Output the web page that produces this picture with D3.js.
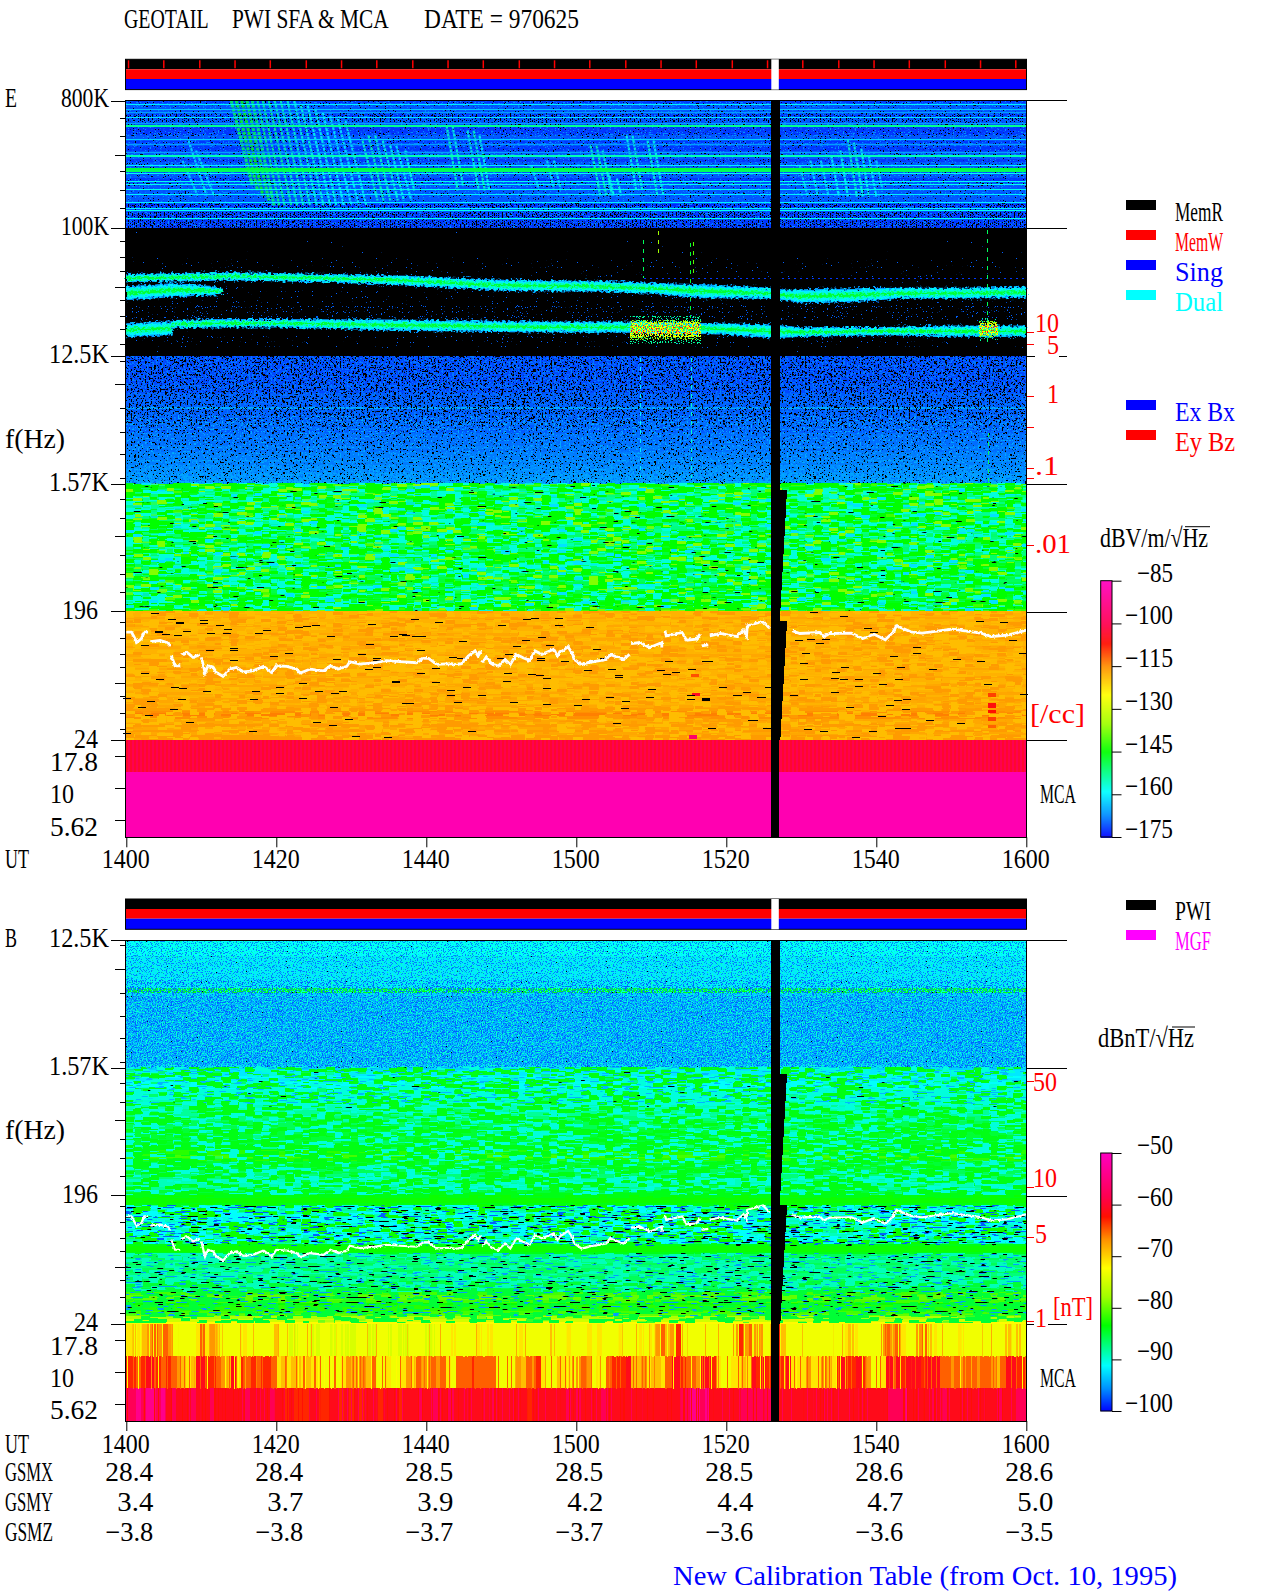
<!DOCTYPE html>
<html>
<head>
<meta charset="utf-8">
<script src="https://cdn.jsdelivr.net/npm/d3@7"></script>
<style>
  html, body { margin: 0; padding: 0; background: #fff; }
  svg { display: block; }
  text { font-family: "Liberation Serif", serif; font-size: 27px; white-space: pre; }
</style>
</head>
<body>
<svg width="1280" height="1593"></svg>
<script>
// axis values
const tickMinutes = [0, 20, 40, 60, 80, 100, 120]
const tickLabels = ['1400', '1420', '1440', '1500', '1520', '1540', '1600']
const gsmx = ['28.4', '28.4', '28.5', '28.5', '28.5', '28.6', '28.6']
const gsmy = ['3.4', '3.7', '3.9', '4.2', '4.4', '4.7', '5.0']
const gsmz = ['-3.8', '-3.8', '-3.7', '-3.7', '-3.6', '-3.6', '-3.5']
const freqMajors = [800000, 100000, 12500, 1570, 196, 24]
const mcaTicks = [17.8, 10, 5.62]
const recordMarks = [0.3, 5.0, 9.8, 14.5, 19.2, 24.0, 28.7, 33.4, 38.2, 42.9, 47.6, 52.4, 57.1, 61.8, 66.6, 71.3, 76.0, 80.8, 85.5, 90.2, 95.0, 99.7, 104.4, 109.2, 113.9, 118.6]
const colorbarE = [-85, -100, -115, -130, -145, -160, -175]
const colorbarB = [-50, -60, -70, -80, -90, -100]
const densityTicks = [10, 5, 1, 0.5, 0.1, 0.05, 0.01]
const densityPos = [332, 344, 396, 427, 468, 478, 545]
const fieldTicks = [50, 10, 5, 1]
const fieldPos = [1081, 1187, 1237, 1321]

// minor ticks per band, channels below the band top (long ones separately)
const minorA = [18, 36, 71, 90, 108], longA = [55]
const minorB = [13, 29, 43, 72, 88, 101, 116], longB = [59]
const minorC = [5, 53, 77, 99, 123], longC = [29]
const minorD = [16, 35, 72, 91, 109], longD = [53]
const minorF = [11, 27, 43, 56, 85, 101, 117], longF = [72]

// spectrum levels per channel row, dB
const rowsE800 = [-172, -160, -170, -163, -166, -172, -161, -170, -166, -153, -172, -172, -172, -170, -162, -172, -166, -172, -172, -166, -155, -170, -172, -170, -160, -148, -150, -158, -170, -172, -158, -158, -170, -158, -168, -160, -170, -168, -160, -173, -160, -158, -172, -172, -158, -172, -172, -172]
const rowsE12k = [-171, -171, -171, -171, -171, -171, -171, -171, -171, -171, -171, -170, -171, -171, -170, -170, -170, -170, -170, -165, -170, -170, -170, -170, -170, -169, -170, -169, -170, -169, -169, -169, -169, -169, -168, -169, -168, -168, -168, -167, -168, -167, -167, -167, -166, -166, -166, -165]
const rowsE1k = [-141, -148, -152, -153, -152, -153, -154, -152, -153, -153, -152, -153, -152, -151, -152, -153, -152, -151, -152, -151, -152, -153, -151, -152, -151, -151, -152, -151, -151, -150, -151, -151, -150, -151, -150, -149, -150, -149, -150, -148, -149, -148, -147, -148, -146, -145, -144, -141]
const rowsE196 = [-118, -118, -117, -118, -118, -117, -118, -118, -117, -118, -117, -118, -118, -117, -118, -118, -117, -118, -117, -118, -118, -117, -118, -118, -117, -118, -118, -117, -118, -118, -117, -118, -117, -117, -118, -117, -116, -115, -114, -115, -117, -117, -116, -117, -116, -117, -116, -116]
const rowsB12k = [-91, -91, -91, -91, -91, -91, -92, -92, -92, -92, -92, -92, -92, -92, -92, -92, -92, -92, -85, -84, -93, -94, -94, -94, -94, -94, -94, -94, -94, -94, -94, -94, -94, -94, -94, -94, -94, -94, -94, -94, -94, -94, -94, -94, -94, -94, -94, -93]
const rowsB1k = [-93, -92, -92, -91, -92, -91, -91, -91, -90, -90, -90, -90, -89, -90, -89, -89, -88, -88, -87, -87, -86, -86, -86, -85, -85, -85, -85, -85, -85, -84, -84, -82, -82, -81, -82, -85, -85, -85, -86, -86, -87, -87, -89, -89, -89, -88, -85, -84]
const rowsB196 = [-84, -83, -83, -84, -89, -88, -89, -89, -90, -89, -90, -89, -89, -88, -89, -89, -88, -88, -84, -83, -83, -84, -86, -86, -87, -86, -87, -86, -86, -87, -86, -86, -85, -85, -86, -85, -81, -80, -80, -81, -83, -82, -82, -81, -80, -77, -75, -72]

// MCA channels, one digit per 5 px column (0 = weakest)
const mcaMid = '2323454541111252431111211111311001100110100011001101001110011121111212111112111113112111212111211121245346111111111146454413631111111111123211114545211453211112111111113131'
const mcaLow = '665677656543237766543726565665232332322111124344351121124254454521555655551111435462113221454121566673342332577655477621122327676676722242243267667641127776777677755454554554357766'
const mcaBot = '88989989787778777877777787777877676667766776767677767776777877877877777777877777767777777878777787777777777777778899897777778888888877777777777777777777778889777778787777777777877788'
const mcaDigitDb = [-74.5, -73, -71, -69, -67, -65, -63, -61, -58, -54]

// swept emissions in the top band: minute, channel, minute, channel, dB
const chirps = [
  [14.0, 0, 16.8, 85, -150], [14.7, 0, 17.5, 90, -148], [15.4, 0, 18.2, 95, -146], [16.1, 0, 19, 100, -149],
  [16.8, 0, 19.7, 105, -151], [17.5, 0, 20.4, 105, -152], [18.2, 0, 21.1, 105, -153], [19, 0, 22, 105, -153],
  [19.8, 0, 22.8, 105, -155], [20.6, 0, 23.6, 105, -155], [21.5, 0, 24.5, 105, -156], [22.4, 0, 25.4, 105, -157],
  [23.3, 5, 26.3, 105, -157], [24.2, 5, 27.2, 105, -158], [25.2, 8, 28, 105, -158], [26.2, 12, 29, 105, -159],
  [27.2, 15, 30, 105, -160], [28.2, 18, 31, 105, -160], [29.2, 20, 32, 105, -160],
  [31.5, 40, 33.5, 100, -156], [32.3, 35, 34.3, 100, -155], [33.2, 35, 35.2, 100, -156], [34.2, 40, 36.2, 100, -157],
  [35.2, 45, 37, 100, -158], [36, 45, 38, 100, -160], [37.2, 50, 38.4, 90, -158],
  [8.3, 40, 10.7, 95, -161], [9.3, 50, 11.7, 95, -161], [7.5, 60, 9.5, 95, -162],
  [42.7, 25, 44.2, 90, -156], [43.5, 25, 44.9, 85, -157], [45.5, 30, 47, 90, -157], [46.3, 30, 47.8, 90, -156], [47.1, 35, 48.4, 90, -158],
  [56.1, 60, 57, 88, -161], [57, 60, 57.9, 88, -161], [54, 65, 55, 88, -162],
  [61.9, 45, 63.2, 95, -156], [62.7, 45, 64, 95, -155], [63.5, 50, 64.8, 95, -157], [64.4, 75, 65, 95, -158], [65.4, 78, 66, 95, -158],
  [66.7, 35, 68, 90, -158], [67.5, 35, 68.8, 90, -157], [69.5, 40, 70.8, 95, -157], [70.3, 40, 71.6, 95, -158],
  [89.8, 65, 90.8, 95, -162], [91.2, 60, 92.2, 95, -161], [92.6, 60, 93.6, 95, -161], [94, 55, 95, 95, -159], [95.2, 50, 96.2, 96, -158],
  [96.2, 39, 97.4, 96, -156], [97, 42, 98.2, 96, -157], [98, 48, 99, 96, -158], [99, 55, 100, 96, -160], [100, 60, 100.8, 88, -162]
]

// narrow band lines in 100K-12.5K: minute, channel, half width
const line1T = [0, 14, 27, 36.5, 50, 63, 70, 77, 86, 88, 90, 97, 103, 110, 120]
const line1Ch = [50, 48, 50, 52, 57, 58, 60, 63, 65, 67, 68, 67, 65, 65, 64]
const line1W = [3, 3, 3, 3.5, 4, 4, 4, 5, 4, 4, 5, 5, 4, 4, 4]
const tailT = [0, 6, 10, 12, 13]
const tailCh = [65, 62, 62, 63, 62.5]
const tailW = [5, 5, 4, 3, 1]
const line2T = [0, 6, 6.2, 12, 20, 28, 36, 46, 58, 66, 75, 80, 86, 90, 100, 110, 120]
const line2Ch = [102, 100, 96, 95, 95, 96, 97, 98, 99, 99, 100, 101, 103, 104, 103, 103, 103]
const line2W = [5, 5, 3, 3, 3, 3.5, 4, 4, 4, 4, 4, 4, 5, 3.5, 3, 4, 4]

// impulsive spikes: minute, channel from, channel to, dB (channels run on below the band)
const spikes = [[69, 12, 50, -150], [70.9, 3, 25, -135], [75.2, 15, 90, -148], [75.6, 14, 50, -140], [114.8, 2, 115, -150],
  [68.5, 130, 250, -160], [75.3, 130, 250, -156], [114.9, 205, 255, -150]]
const bursts = [[67.2, 76.6, 88, 115], [113.8, 116.2, 90, 112]]

// upper hybrid trace, minute and channel below 196 Hz, null = gap
const traceT = [0, 0.7, 1.4, 2, 2.4, 2.9, null, 3.2, 4.5, 5.6, 5.8, null, 6, 6.5, 7.2, null, 7.4, 8.1, 8.9, 9.8, null, 10, 10.5, 10.9, 11.6, 12, 12.9, 13.8, 14.7, 15.6, 16.9, 18.3, 19.4, 20, 21.4, 22.7, 23.2, 24.5, 26.3, 27.2, 28.3, 29.4, 29.8, 31.2, 33.4, 34.7, 36.5, 38.7, 39.6, 40.3, 41.4, 43.4, 43.8, 44.7, 45.6, 46.5, 46.9, 47.3, null, 47.5, 48, 48.7, 49.6, 50.5, 51.2, 52, 52.9, 53.8, 54.5, 55.4, 57, 57.5, 57.8, 58.9, 59.5, 59.7, 60.7, 61.6, 64, 64.5, 66.3, 67.1, null, 67.3, 68.5, 69.8, 71.4, 71.4, null, 71.8, 72, 74.1, 74.7, 76, 76.5, null, 76.7, 77.6, null, 77.8, 79.2, 81.4, 82.3, 82.7, 82.8, 84.9, 85.8, null, 87.1, 87.9, null, 88.8, 89.8, 92.5, 93, 93.8, 96.7, 98.2, 99.7, 101.2, 102.2, 102.7, 104.6, 106.1, 110.1, 114, 115.3, 117.5, 120]
const traceCh = [20.7, 20.7, 30.7, 27.3, 20.7, 20.7, null, 30, 29, 31.3, 34.7, null, 44, 54, 54, null, 43.3, 40.7, 45.7, 43, null, 45.7, 60.7, 54, 55.7, 60.7, 64.7, 57.3, 55.7, 60, 59, 54.7, 60.7, 54, 54.7, 57.3, 61.3, 57.3, 59, 54, 57.3, 54.7, 50, 52.3, 50.7, 49, 50, 51, 46.7, 46.7, 52.7, 52, 53, 52, 44.3, 39.3, 44.3, 39.3, null, 51, 45.3, 52, 54.3, 47.7, 52.7, 42.7, 46, 48.7, 39.3, 42.7, 37.7, 44.3, 41, 35.3, 42, 47.7, 52.7, 51, 47.7, 42.7, 47.7, 42.7, null, 32, 31, 36, 31, 36, null, 19.3, 24.3, 21, 28.7, 27.7, 22.7, null, 34.3, 33.3, null, 24.3, 22, 25, 18.7, 24.3, 14.3, 10, 17, null, 22.7, 16, null, 19.3, 22, 21, 25, 22, 21.7, 27, 22.7, 28.3, 21, 14.3, 20.3, 21.7, 17.7, 21.7, 25, 23.7, 18.7]

// data dropouts in the 196-24 Hz band of E: minute, channel
const dropsE = [[3.8, 1.3], [6, 7.3], [7.1, 10.7], [7.1, 11.7], [10.3, 9], [10.3, 11.3], [12.4, 13.3], [13.5, 17.3], [11.2, 21.3], [13.4, 21.3], [5.2, 22.3], [6.9, 23.3], [8, 19.3], [17.6, 21.3], [18.7, 18.7], [23, 15.7], [24.1, 14.7], [25.2, 13.3], [32.7, 12.3], [27.2, 24.7], [35.7, 24.3], [36.8, 22.3], [38.6, 24], [2.5, 33.3], [11.1, 38.7], [14.3, 36.7], [14.3, 38], [19.6, 44.7], [21.7, 41.3], [31.4, 42.7], [32.5, 32.7], [33.4, 46.7], [33.4, 48.7], [28, 47.3], [14.3, 48], [32.3, 57.3], [33.4, 55.7], [2.4, 61.3], [4.4, 67.3], [6.4, 74.7], [7.5, 75.7], [10.7, 78.7], [17.2, 78.7], [20.4, 74.7], [20.4, 80.7], [23.5, 71.3], [25.7, 78.7], [27.8, 80.7], [28.9, 78.7], [0, 86.3], [3.2, 88.7], [7.4, 87.3], [17, 87.3], [23.5, 86.3], [37.3, 90.7], [2, 94.7], [6.3, 96.7], [27.7, 94.7], [3, 102.7], [8.4, 109.7], [25.4, 109.7], [27.5, 112.7], [29.7, 106.7], [16.8, 118.7], [30.6, 123.3], [34.9, 124.7], [0, 120.7],
  [38.5, 8], [41.7, 11], [50.1, 14], [53.4, 8], [54.5, 6.3], [57.7, 6.3], [57.6, 14], [61.8, 16], [37.2, 23.3], [39.4, 24.3], [44.8, 29], [53.3, 28], [55.4, 25], [52, 34], [56.4, 33], [39.3, 38], [62.7, 37], [51, 42], [43.5, 45], [44.6, 46], [49.9, 46], [55.2, 46], [55.2, 48], [58.4, 49], [62.7, 48], [63.7, 46], [72.3, 49], [77.6, 49], [39.2, 61], [41.3, 56], [50.9, 61], [54, 62], [55.1, 63], [56, 66], [61.5, 58], [64.7, 57], [65.7, 63], [65.7, 65], [71.2, 58], [72.1, 62], [73.3, 60], [75.4, 57], [41.2, 70], [50.7, 69], [45.4, 75], [43.3, 78], [56, 76], [70, 77], [79.5, 75], [43.2, 83], [47.4, 83], [64.5, 85], [69.8, 85], [75.2, 83], [81.5, 83], [82.7, 80], [84.7, 85], [85.7, 75], [61.3, 87], [66.6, 89], [75.2, 87], [77.3, 86], [77.3, 88], [44.2, 90], [51.7, 90], [56, 92], [37.8, 91], [60.2, 93], [66.5, 96], [65.4, 111], [83.6, 108], [46, 119], [78.1, 116], [85.5, 116],
  [91.6, 1], [95.7, 5], [98.8, 17], [99.7, 20.3], [113.8, 10], [117, 11], [89.6, 28.7], [91.2, 27], [92.5, 31], [93.3, 27], [105.4, 35.3], [105.4, 41], [102.3, 44], [90.6, 41], [90.3, 51], [95.8, 55], [100, 61], [103.2, 55], [94.6, 60], [90.3, 67], [94.5, 66], [95.6, 67], [97.7, 67], [97.7, 73.7], [100.9, 71.7], [103, 67], [107.5, 57], [110.7, 47.7], [113.9, 49.3], [114.8, 71.7], [94.4, 79.7], [89, 82.7], [102.9, 87.7], [104, 87], [101.8, 93], [96.5, 95], [103.9, 97], [100.7, 103.7], [107.1, 107.7], [111.3, 111], [103, 116], [104, 116], [99.5, 118.7], [97.2, 125], [90.8, 117], [93, 118.7], [119.5, 41], [119.7, 81.7], [118.2, 28.7], [77.2, 49.3], [79.5, 75], [81.4, 82.7], [82.7, 79.7], [84.6, 85], [85.6, 75], [77.2, 87], [83.4, 107.7], [78, 116], [85.4, 116]]
const thickDropsE = [[3.8, 20], [35.4, 69]]
// strong cells in the same band: minute, channel, minutes wide, channels high, dB
const hotCells = [[75.4, 81, 1.1, 3, -104], [75, 123, 1.1, 4, -97], [75.3, 62, 1.1, 3, -111], [114.9, 81, 1, 4, -110], [114.9, 91, 1, 5, -106], [114.9, 98, 1, 3, -107], [114.9, 105, 1, 4, -110], [114.9, 113, 1, 3, -112]]

// data gap, minute and frequency
const gapTop = [[86, 800000], [87.2, 800000], [87.2, 1417], [88.1, 1417], [87.2, 196], [87.2, 167], [88.1, 167], [87.2, 24], [87, 24], [87, 4.14], [86, 4.14]]
const gapBottom = [[86, 12500], [87.2, 12500], [87.2, 1417], [88.1, 1417], [87.2, 196], [87.2, 167], [88.1, 167], [87.2, 24], [87, 24], [87, 4.14], [86, 4.14]]

const svg = d3.select('svg')
const defs = svg.append('defs')
const x = d3.scaleLinear().domain([0, 120]).range([126.3, 1026.3])
const plotLeft = 125.5, plotRight = 1026.5

// jet-like palette of the colour bars
const palette = d3.scaleLinear()
  .domain([0, 0.089, 0.178, 0.333, 0.444, 0.556, 0.667, 0.755, 0.833, 1])
  .range(['#0000ff', '#0090ff', '#00ffff', '#00ff00', '#a0ff00', '#ffff00', '#ff9000', '#ff1000', '#ff0050', '#ff00c0'])
  .clamp(true)
const colorE = d => palette((d + 175) / 90)
const colorB = d => palette((d + 100) / 50)

// Grain is only surface texture for the noise floor; it carries no values
let grainCount = 0
const grain = (g, box, opts) => {
  const id = `grain${grainCount++}`
  const c = d3.color(opts.color).rgb()
  const f = defs.append('filter').attr('id', id)
    .attr('x', 0).attr('y', 0).attr('width', 1).attr('height', 1)
    .attr('color-interpolation-filters', 'sRGB')
  f.append('feTurbulence').attr('type', 'fractalNoise').attr('baseFrequency', opts.freq || '0.7')
    .attr('numOctaves', 1).attr('seed', opts.seed).attr('result', 'n')
  let src = 'n'
  if (opts.block) {
    // sample the noise once per cell, then grow each sample over its cell
    const [bw, bh] = opts.block
    f.append('feFlood').attr('x', box[0] + Math.floor(bw / 2)).attr('y', box[1] + Math.floor(bh / 2)).attr('width', 1).attr('height', 1).attr('flood-color', '#000')
    f.append('feComposite').attr('x', box[0]).attr('y', box[1]).attr('width', bw).attr('height', bh)
    f.append('feTile').attr('x', box[0]).attr('y', box[1]).attr('width', box[2]).attr('height', box[3]).attr('result', 't')
    f.append('feComposite').attr('in', 'n').attr('in2', 't').attr('operator', 'in')
    f.append('feMorphology').attr('operator', 'dilate').attr('radius', `${Math.floor(bw / 2)} ${Math.floor(bh / 2)}`).attr('result', 'b')
    src = 'b'
  }
  const k = 40, t = opts.t
  f.append('feColorMatrix').attr('in', src).attr('type', 'matrix')
    .attr('values', `0 0 0 0 ${c.r / 255} 0 0 0 0 ${c.g / 255} 0 0 0 0 ${c.b / 255} ${k} 0 0 0 ${-k * t}`)
  g.append('rect').attr('x', box[0]).attr('y', box[1]).attr('width', box[2]).attr('height', box[3])
    .attr('fill', '#000').attr('filter', `url(#${id})`)
}
const dashFreq = '0.09 0.8'

// jagged edges for the hand read lines
const rough = (id, freq, scale) => {
  const f = defs.append('filter').attr('id', id).attr('filterUnits', 'userSpaceOnUse')
    .attr('x', 0).attr('y', 0).attr('width', 1280).attr('height', 1593)
  f.append('feTurbulence').attr('type', 'fractalNoise').attr('baseFrequency', freq).attr('numOctaves', 2).attr('seed', 9).attr('result', 'n')
  f.append('feDisplacementMap').attr('in', 'SourceGraphic').attr('in2', 'n').attr('scale', scale)
    .attr('xChannelSelector', 'R').attr('yChannelSelector', 'G')
}
rough('roughLine', '0.35 0.5', 7)
rough('roughTrace', '0.4', 3)

const label = (g, str, px, py, color = '#000', pitch = 12) =>
  g.append('text').attr('x', px).attr('y', py).attr('fill', color)
    .attr('textLength', str.length * pitch).attr('lengthAdjust', 'spacingAndGlyphs').text(str)

const labelEnd = (g, str, px, py, color, pitch = 12) => label(g, str, px - str.length * pitch, py, color, pitch)

const drawRows = (g, levels, top, bottom, color) => {
  const band = d3.scaleBand().domain(d3.range(levels.length)).range([top, bottom])
  g.selectAll(null).data(levels).enter().append('rect')
    .attr('x', plotLeft).attr('y', (d, i) => band(i))
    .attr('width', plotRight - plotLeft).attr('height', band.bandwidth() + 0.5)
    .attr('fill', color)
  return band
}

const minorTicks = (g, chan, short, long) => {
  g.selectAll(null).data(short).enter().append('line')
    .attr('x1', 120).attr('x2', plotLeft).attr('y1', chan).attr('y2', chan).attr('stroke', '#000')
  g.selectAll(null).data(long).enter().append('line')
    .attr('x1', 115).attr('x2', plotLeft).attr('y1', chan).attr('y2', chan).attr('stroke', '#000')
}

const drawStrips = (top, withMarks) => {
  const g = svg.append('g')
  const strips = [['#000', 0, 10], ['#f00', 10, 9.7], ['#00f', 19.7, 10.6]]
  strips.forEach(s => g.append('rect').attr('x', plotLeft).attr('y', top + s[1]).attr('width', plotRight - plotLeft).attr('height', s[2]).attr('fill', s[0]))
  g.append('rect').attr('x', plotLeft).attr('y', top).attr('width', plotRight - plotLeft).attr('height', 30.3).attr('fill', 'none').attr('stroke', '#000')
  g.append('rect').attr('x', x(86)).attr('y', top).attr('width', x(87) - x(86)).attr('height', 30.3).attr('fill', '#fff')
  if (withMarks) {
    g.selectAll(null).data(recordMarks).enter().append('line')
      .attr('x1', x).attr('x2', x).attr('y1', top + 1).attr('y2', top + 9)
      .attr('stroke', d => d > 86 && d < 87 ? '#fff' : '#f00').attr('stroke-width', 1.5)
  }
}

const drawMcaCols = (g, digits, top, bottom) => {
  const cols = d3.scaleBand().domain(d3.range(digits.length)).range([x(0), x(120)])
  g.selectAll(null).data(digits.split('')).enter().append('rect')
    .attr('x', (d, i) => cols(i)).attr('y', top).attr('width', cols.bandwidth() + 0.5).attr('height', bottom - top)
    .attr('fill', d => colorB(mcaDigitDb[+d]))
}

const drawTrace = (g, chan, width) => {
  const pts = traceT.map((t, i) => ({ t, ch: traceCh[i] }))
  const path = d3.line().defined(d => d.t !== null).x(d => x(d.t)).y(d => chan(d.ch))
  g.append('path').attr('d', path(pts)).attr('fill', 'none').attr('stroke', '#fff').attr('stroke-width', width).attr('filter', 'url(#roughTrace)')
}

const drawGap = (g, pts, y) => {
  g.append('path').attr('d', d3.line().x(d => x(d[0])).y(d => y(d[1]))(pts) + 'Z').attr('fill', '#000')
}

const drawXAxis = (bottom, py) => {
  const axis = d3.axisBottom(x).tickValues(tickMinutes).tickFormat((d, i) => tickLabels[i]).tickSize(10).tickSizeOuter(0)
  const g = svg.append('g').attr('transform', `translate(0, ${bottom})`).call(axis)
  g.select('.domain').remove()
  g.selectAll('line').attr('stroke', '#000')
  g.selectAll('text').attr('x', -1).attr('y', py - bottom).attr('dy', 0).attr('fill', '#000')
    .attr('textLength', 48).attr('lengthAdjust', 'spacingAndGlyphs')
    .style('font-family', '"Liberation Serif", serif').style('font-size', '27px')
}

const rightLines = (g, ys) => {
  g.selectAll(null).data(ys).enter().append('line')
    .attr('x1', plotRight).attr('x2', 1067).attr('y1', d => d).attr('y2', d => d).attr('stroke', '#000')
}

const colorBar = (g, ticks, top, color) => {
  const bottom = ticks[ticks.length - 1]
  const sc = d3.scaleLinear().domain([ticks[0], bottom]).range(top)
  const cells = d3.range(Math.ceil(top[1] - top[0]))
  g.selectAll(null).data(cells).enter().append('rect')
    .attr('x', 1100.7).attr('y', d => top[0] + d).attr('width', 11.3).attr('height', 1.2)
    .attr('fill', d => color(sc.invert(top[0] + d)))
  g.append('rect').attr('x', 1100.7).attr('y', top[0]).attr('width', 11.3).attr('height', top[1] - top[0]).attr('fill', 'none').attr('stroke', '#000')
  const axis = d3.axisRight(sc).tickValues(ticks).tickSize(9.5).tickFormat('')
  const a = g.append('g').attr('transform', 'translate(1112, 0)').call(axis)
  a.select('.domain').remove()
  a.selectAll('line').attr('stroke', '#000')
  ticks.forEach(t => labelEnd(g, '\u2212' + Math.abs(t), 1173, sc(t) + 1))
}

const sqrtHz = (g, str, px, py, barFrom, barTo) => {
  label(g, str, px, py)
  g.append('line').attr('x1', barFrom).attr('x2', barTo).attr('y1', py - 20).attr('y2', py - 20).attr('stroke', '#000')
}

// title
const title = svg.append('text').attr('y', 28)
const titleParts = [['GEOTAIL', 124], ['PWI SFA & MCA', 232], ['DATE = 970625', 424]]
titleParts.forEach(p => title.append('tspan').attr('x', p[1]).attr('textLength', (p[0].length + 0.4) * 12).attr('lengthAdjust', 'spacingAndGlyphs').text(p[0] + ' '))

// ---- E panel ----
drawStrips(59.3, true)
const yE = d3.scaleLog().domain([800000, 24, 4.14]).range([100.7, 740.3, 837.3])
const chanOf = (y, f0, f1) => d3.scaleLinear().domain([0, 128]).range([y(f0), y(f1)])
const chE800 = chanOf(yE, 800000, 100000)
const chE100 = chanOf(yE, 100000, 12500)
const chE12k = chanOf(yE, 12500, 1570)
const chE1k = chanOf(yE, 1570, 196)
const chE196 = chanOf(yE, 196, 24)
const W = plotRight - plotLeft
const plotE = svg.append('g').attr('shape-rendering', 'crispEdges')

// 800K-100K: weak floor first, the bright rows go back on top of the speckle
const band800 = drawRows(plotE, rowsE800.map(d => Math.min(d, -170)), chE800(0), chE800(128), colorE)
grain(plotE, [plotLeft, chE800(0), W, 128], { color: '#0050ff', seed: 3, t: 0.56, freq: '0.35 0.9' })
grain(plotE, [plotLeft, chE800(0), W, 128], { color: '#0090ff', seed: 5, t: 0.63, freq: '0.6 0.9' })
grain(plotE, [plotLeft, chE800(0), W, 128], { color: '#000', seed: 7, t: 0.66, freq: '0.6 1.1' })
const darkRowsA = [[5, 8], [39, 40], [42, 44], [45, 48]]
darkRowsA.forEach((r, i) => grain(plotE, [plotLeft, band800(r[0]), W, (r[1] - r[0]) * band800.bandwidth()], { color: '#000', seed: 11 + i, t: 0.54, freq: '0.5 1' }))
const chirpG = plotE.append('g').attr('shape-rendering', 'auto')
chirpG.selectAll(null).data(chirps).enter().append('line')
  .attr('x1', d => x(d[0])).attr('y1', d => chE800(d[1])).attr('x2', d => x(d[2])).attr('y2', d => chE800(d[3]))
  .attr('stroke', d => colorE(d[4])).attr('stroke-width', d => d[4] > -152 ? 3 : 2.2)
  .attr('stroke-dasharray', '3 1').attr('opacity', 0.85)
plotE.selectAll(null).data(rowsE800.map((d, i) => [d, i]).filter(d => d[0] > -168)).enter().append('rect')
  .attr('x', plotLeft).attr('y', d => band800(d[1]) + 0.6).attr('width', W).attr('height', d => d[0] > -156 ? 2 : 1)
  .attr('fill', d => colorE(d[0]))

// 100K-12.5K, quiet black band with the two narrow lines
plotE.append('rect').attr('x', plotLeft).attr('y', chE100(0)).attr('width', W).attr('height', 128).attr('fill', '#000')
const speckle100 = [[0, 128, 0.78], [30, 48, 0.72], [58, 78, 0.72], [78, 92, 0.68], [106, 118, 0.72]]
speckle100.forEach((r, i) => grain(plotE, [plotLeft, chE100(r[0]), W, r[1] - r[0]], { color: '#0060ff', seed: 21 + i, t: r[2], freq: '0.8' }))
const lineArea = grow => d3.area().x(d => x(d.t))
  .y0(d => chE100(d.ch - d.w * grow)).y1(d => chE100(d.ch + d.w * grow))
const zipLine = (t, ch, w) => t.map((d, i) => ({ t: d, ch: ch[i], w: w[i] }))
const lineLayers = [[1.4, colorE(-166)], [1.1, colorE(-160)], [0.65, colorE(-155)], [0.28, colorE(-148)]]
const lineG = plotE.append('g').attr('shape-rendering', 'auto').attr('filter', 'url(#roughLine)')
;[zipLine(line1T, line1Ch, line1W), zipLine(tailT, tailCh, tailW), zipLine(line2T, line2Ch, line2W)].forEach(l => {
  lineLayers.forEach(a => lineG.append('path').attr('d', lineArea(a[0])(l)).attr('fill', a[1]))
})
const dots = [[69, 50], [120, 50]]
plotE.append('path').attr('d', d3.line().x(d => x(d[0])).y(d => chE100(d[1]))(dots))
  .attr('stroke', colorE(-172)).attr('stroke-width', 1.5).attr('stroke-dasharray', '2 4').attr('fill', 'none')

// 12.5K-1.57K, weak noise floor
drawRows(plotE, rowsE12k, chE12k(0), chE12k(128), colorE)
grain(plotE, [plotLeft, chE12k(0), W, 128], { color: '#000', seed: 31, t: 0.6, freq: '0.55' })
grain(plotE, [plotLeft, chE12k(0), W, 70], { color: '#000', seed: 32, t: 0.6, freq: '0.55' })
grain(plotE, [plotLeft, chE12k(0), W, 128], { color: '#0078ff', seed: 33, t: 0.56, freq: '0.55' })
grain(plotE, [plotLeft, chE12k(60), W, 68], { color: '#00a8ff', seed: 34, t: 0.62, freq: '0.55' })

// spikes and bursts cross the black band and the noise floor
plotE.selectAll(null).data(spikes).enter().append('line')
  .attr('x1', d => x(d[0])).attr('x2', d => x(d[0])).attr('y1', d => chE100(d[1])).attr('y2', d => chE100(d[2]))
  .attr('stroke', d => colorE(d[3])).attr('stroke-width', 1).attr('stroke-dasharray', '4 5')
bursts.forEach((b, i) => {
  const box = [x(b[0]), chE100(b[2]), x(b[1]) - x(b[0]), b[3] - b[2]]
  const inner = share => [box[0], box[1] + box[3] * share, box[2], box[3] * (1 - 2 * share)]
  grain(plotE, box, { color: '#00ffa0', seed: 41 + i, t: 0.58, freq: '0.8' })
  grain(plotE, inner(0.15), { color: '#a0ff00', seed: 43 + i, t: 0.54, freq: '0.8' })
  grain(plotE, inner(0.25), { color: '#ffff00', seed: 45 + i, t: 0.52, freq: '0.8' })
  grain(plotE, inner(0.36), { color: '#ff0030', seed: 47 + i, t: 0.6, freq: '0.8' })
})

// 1.57K-196
drawRows(plotE, rowsE1k, chE1k(0), chE1k(128), colorE)
const boxE1k = [plotLeft, chE1k(0), W, 128]
grain(plotE, boxE1k, { color: colorE(-157), seed: 51, t: 0.52, freq: '0.25 0.6', block: [9, 3] })
grain(plotE, boxE1k, { color: colorE(-145), seed: 52, t: 0.54, freq: '0.25 0.6', block: [9, 3] })
grain(plotE, boxE1k, { color: colorE(-137), seed: 53, t: 0.67, freq: '0.25 0.6', block: [9, 3] })
grain(plotE, boxE1k, { color: colorE(-161), seed: 54, t: 0.7, freq: '0.25 0.6', block: [9, 3] })
grain(plotE, boxE1k, { color: '#000', seed: 55, t: 0.72, freq: dashFreq })

// 196-24
drawRows(plotE, rowsE196, chE196(0), chE196(128), colorE)
const boxE196 = [plotLeft, chE196(0), W, 128]
grain(plotE, boxE196, { color: colorE(-119), seed: 61, t: 0.56, freq: '0.25 0.6', block: [9, 3] })
grain(plotE, boxE196, { color: colorE(-116), seed: 62, t: 0.62, freq: '0.25 0.6', block: [9, 3] })
plotE.selectAll(null).data(hotCells).enter().append('rect')
  .attr('x', d => x(d[0])).attr('y', d => chE196(d[1])).attr('width', d => x(d[2]) - x(0)).attr('height', d => d[3])
  .attr('fill', d => colorE(d[4]))
plotE.selectAll(null).data(dropsE).enter().append('rect')
  .attr('x', d => x(d[0] - 0.5)).attr('y', d => chE196(d[1])).attr('width', 8).attr('height', 1).attr('fill', '#000')
plotE.selectAll(null).data(thickDropsE).enter().append('rect')
  .attr('x', d => x(d[0])).attr('y', d => chE196(d[1])).attr('width', 8).attr('height', 2).attr('fill', '#000')

// MCA in E
const yE17 = yE(24), yE10 = yE(10 * 1.34), yEbot = yE(4.14)
plotE.append('rect').attr('x', plotLeft).attr('y', yE17).attr('width', W).attr('height', yE10 - yE17).attr('fill', colorE(-100))
plotE.append('line').attr('x1', plotLeft).attr('x2', plotRight).attr('y1', (yE17 + yE10) / 2).attr('y2', (yE17 + yE10) / 2)
  .attr('stroke', colorE(-103)).attr('stroke-width', yE10 - yE17).attr('stroke-dasharray', '2 2')
plotE.append('rect').attr('x', plotLeft).attr('y', yE10).attr('width', W).attr('height', yEbot - yE10).attr('fill', colorE(-87))

drawTrace(plotE.append('g').attr('shape-rendering', 'auto'), chE196, 2.8)
drawGap(plotE, gapTop, yE)
plotE.append('rect').attr('x', plotLeft).attr('y', 100.7).attr('width', W).attr('height', yEbot - 100.7).attr('fill', 'none').attr('stroke', '#000')

// E axes
const axE = svg.append('g').attr('shape-rendering', 'crispEdges')
const leftE = d3.axisLeft(yE).tickValues(freqMajors).tickFormat('').tickSize(15).tickSizeOuter(0)
const gLeftE = axE.append('g').attr('transform', `translate(${plotLeft}, 0)`).call(leftE)
gLeftE.select('.domain').remove()
minorTicks(axE, chE800, minorA, longA)
minorTicks(axE, chE100, minorB, longB)
minorTicks(axE, chE12k, minorC, longC)
minorTicks(axE, chE1k, minorD, longD)
minorTicks(axE, chE196, minorF, longF)
axE.selectAll(null).data(mcaTicks).enter().append('line').attr('x1', 115).attr('x2', plotLeft).attr('y1', yE).attr('y2', yE).attr('stroke', '#000')
rightLines(axE, [100.7, 228.5, 484.3, 612.3, 740.3])
axE.selectAll(null).data([[plotRight, 1035], [1059, 1067]]).enter().append('line').attr('x1', d => d[0]).attr('x2', d => d[1]).attr('y1', 356.4).attr('y2', 356.4).attr('stroke', '#000')
const density = d3.scaleLog().domain(densityTicks).range(densityPos)
axE.selectAll(null).data(densityTicks).enter().append('line')
  .attr('x1', plotRight).attr('x2', 1034).attr('y1', density).attr('y2', density).attr('stroke', '#f00')
drawXAxis(837.3, 868)

const textE = svg.append('g')
label(textE, 'E', 5, 107)
labelEnd(textE, '800K', 109, 107)
labelEnd(textE, '100K', 109, 235)
labelEnd(textE, '12.5K', 109, 363)
labelEnd(textE, '1.57K', 109, 491)
labelEnd(textE, '196', 98, 619)
labelEnd(textE, '24', 98, 747.7)
labelEnd(textE, '17.8', 98, 771)
label(textE, '10', 50, 803)
labelEnd(textE, '5.62', 98, 835.7)
label(textE, 'f(Hz)', 5, 448)
label(textE, 'UT', 5, 868)
label(textE, 'MCA', 1040, 802.7)
label(textE, '10', 1035, 331.7, '#f00')
label(textE, '5', 1047, 354, '#f00')
label(textE, '1', 1047, 403, '#f00')
label(textE, '.1', 1035, 475, '#f00')
label(textE, '.01', 1035, 552.7, '#f00')
label(textE, '[/cc]', 1030, 723, '#f00', 11)

// status legend
const legend = [['MemR', '#000', 200, 220.7], ['MemW', '#f00', 230, 250.7], ['Sing', '#00f', 260, 280.7], ['Dual', '#0ff', 290, 310.7], ['Ex Bx', '#00f', 400, 420.7], ['Ey Bz', '#f00', 430, 450.7], ['PWI', '#000', 900, 920], ['MGF', '#f0f', 930, 950]]
legend.forEach(l => {
  svg.append('rect').attr('x', 1126).attr('y', l[2]).attr('width', 30).attr('height', 10).attr('fill', l[1])
  label(svg, l[0], 1175, l[3], l[1])
})

sqrtHz(svg, 'dBV/m/\u221AHz', 1100, 546.7, 1185, 1210)
colorBar(svg.append('g'), colorbarE, [580.7, 837], colorE)

// ---- B panel ----
drawStrips(899, false)
const yB = d3.scaleLog().domain([12500, 24, 4.14]).range([940.3, 1324.3, 1421])
const chB12k = chanOf(yB, 12500, 1570)
const chB1k = chanOf(yB, 1570, 196)
const chB196 = chanOf(yB, 196, 24)
const plotB = svg.append('g').attr('shape-rendering', 'crispEdges')

drawRows(plotB, rowsB12k, chB12k(0), chB12k(128), colorB)
const boxB12k = [plotLeft, chB12k(0), W, 128]
grain(plotB, boxB12k, { color: colorB(-96), seed: 71, t: 0.55, freq: '0.8' })
grain(plotB, [plotLeft, chB12k(40), W, 88], { color: colorB(-97), seed: 72, t: 0.58, freq: '0.8' })
grain(plotB, boxB12k, { color: colorB(-90), seed: 73, t: 0.58, freq: '0.8' })
grain(plotB, boxB12k, { color: '#00ffa0', seed: 74, t: 0.7, freq: '0.8' })
grain(plotB, boxB12k, { color: '#000', seed: 75, t: 0.76, freq: '0.8' })

drawRows(plotB, rowsB1k, chB1k(0), chB1k(128), colorB)
const boxB1k = [plotLeft, chB1k(0), W, 128]
grain(plotB, boxB1k, { color: colorB(-90), seed: 81, t: 0.53, freq: '0.25 0.6', block: [9, 3] })
grain(plotB, boxB1k, { color: colorB(-84), seed: 82, t: 0.55, freq: '0.25 0.6', block: [9, 3] })
grain(plotB, [plotLeft, chB1k(0), W, 36], { color: colorB(-94), seed: 83, t: 0.63, freq: dashFreq })
grain(plotB, [plotLeft, chB1k(0), W, 40], { color: '#000', seed: 84, t: 0.74, freq: dashFreq })

drawRows(plotB, rowsB196, chB196(0), chB196(128), colorB)
grain(plotB, [plotLeft, chB196(10), W, 38], { color: colorB(-91), seed: 91, t: 0.52, freq: '0.25 0.6', block: [9, 3] })
grain(plotB, [plotLeft, chB196(58), W, 38], { color: colorB(-89), seed: 92, t: 0.54, freq: '0.25 0.6', block: [9, 3] })
grain(plotB, [plotLeft, chB196(92), W, 34], { color: colorB(-85), seed: 94, t: 0.52, freq: '0.25 0.6', block: [9, 3] })
grain(plotB, [plotLeft, chB196(0), W, 48], { color: colorB(-83), seed: 97, t: 0.58, freq: '0.25 0.6', block: [9, 3] })
grain(plotB, [plotLeft, chB196(10), W, 40], { color: colorB(-97), seed: 93, t: 0.62, freq: dashFreq })
grain(plotB, [plotLeft, chB196(58), W, 62], { color: colorB(-95), seed: 98, t: 0.64, freq: dashFreq })
grain(plotB, [plotLeft, chB196(10), W, 40], { color: '#000', seed: 95, t: 0.66, freq: dashFreq })
grain(plotB, [plotLeft, chB196(58), W, 62], { color: '#000', seed: 96, t: 0.67, freq: dashFreq })

const yB17 = yB(24), yB10 = yB(10 * 1.34), yB5 = yB(5.62 * 1.34), yBbot = yB(4.14)
drawMcaCols(plotB, mcaMid, yB17, yB10)
drawMcaCols(plotB, mcaLow, yB10, yB5)
drawMcaCols(plotB, mcaBot, yB5, yBbot)
// fine vertical striping inside the columns
grain(plotB, [plotLeft, yB17, W, yB10 - yB17], { color: colorB(-73), seed: 101, t: 0.54, freq: '0.55 0' })
grain(plotB, [plotLeft, yB17, W, yB10 - yB17], { color: colorB(-68), seed: 102, t: 0.65, freq: '0.55 0' })
grain(plotB, [plotLeft, yB10, W, yB5 - yB10], { color: colorB(-72), seed: 103, t: 0.62, freq: '0.55 0' })
grain(plotB, [plotLeft, yB10, W, yB5 - yB10], { color: colorB(-65), seed: 104, t: 0.57, freq: '0.55 0' })
grain(plotB, [plotLeft, yB5, W, yBbot - yB5], { color: colorB(-62), seed: 105, t: 0.58, freq: '0.55 0' })
grain(plotB, [plotLeft, yB5, W, yBbot - yB5], { color: colorB(-58), seed: 106, t: 0.62, freq: '0.55 0' })

drawTrace(plotB.append('g').attr('shape-rendering', 'auto'), chB196, 2.2)
drawGap(plotB, gapBottom, yB)
plotB.append('rect').attr('x', plotLeft).attr('y', 940.3).attr('width', W).attr('height', yBbot - 940.3).attr('fill', 'none').attr('stroke', '#000')

const axB = svg.append('g').attr('shape-rendering', 'crispEdges')
const gLeftB = axB.append('g').attr('transform', `translate(${plotLeft}, 0)`)
  .call(d3.axisLeft(yB).tickValues(freqMajors.slice(2)).tickFormat('').tickSize(15).tickSizeOuter(0))
gLeftB.select('.domain').remove()
minorTicks(axB, chB12k, minorC, longC)
minorTicks(axB, chB1k, minorD, longD)
minorTicks(axB, chB196, minorF, longF)
axB.selectAll(null).data(mcaTicks).enter().append('line').attr('x1', 115).attr('x2', plotLeft).attr('y1', yB).attr('y2', yB).attr('stroke', '#000')
rightLines(axB, [940.3, 1068.3, 1196.3])
axB.selectAll(null).data([[plotRight, 1034], [1048, 1067]]).enter().append('line').attr('x1', d => d[0]).attr('x2', d => d[1]).attr('y1', 1324.3).attr('y2', 1324.3).attr('stroke', '#000')
const field = d3.scaleLog().domain(fieldTicks).range(fieldPos)
axB.selectAll(null).data(fieldTicks).enter().append('line')
  .attr('x1', plotRight).attr('x2', 1034).attr('y1', field).attr('y2', field).attr('stroke', '#f00')
drawXAxis(1421, 1452.7)

const textB = svg.append('g')
label(textB, 'B', 5, 947)
labelEnd(textB, '12.5K', 109, 947)
labelEnd(textB, '1.57K', 109, 1075)
labelEnd(textB, '196', 98, 1203)
labelEnd(textB, '24', 98, 1330.7)
labelEnd(textB, '17.8', 98, 1355)
label(textB, '10', 50, 1387)
labelEnd(textB, '5.62', 98, 1419)
label(textB, 'f(Hz)', 5, 1139)
label(textB, 'UT', 5, 1452.7)
label(textB, 'GSMX', 5, 1481)
label(textB, 'GSMY', 5, 1511)
label(textB, 'GSMZ', 5, 1541)
label(textB, 'MCA', 1040, 1386.7)
label(textB, '50', 1033, 1090.7, '#f00')
label(textB, '10', 1033, 1187, '#f00')
label(textB, '5', 1035, 1243, '#f00')
label(textB, '1', 1035, 1327, '#f00')
label(textB, '[nT]', 1053, 1316, '#f00', 10)

// orbit rows, right aligned to 27 px past each tick
;[[gsmx, 1481], [gsmy, 1511], [gsmz, 1541]].forEach(r => {
  r[0].forEach((s, i) => labelEnd(textB, s.replace('-', '\u2212'), x(tickMinutes[i]) + 27, r[1]))
})

sqrtHz(svg, 'dBnT/\u221AHz', 1098, 1047, 1172, 1195)
colorBar(svg.append('g'), colorbarB, [1153, 1411], colorB)

label(svg, 'New Calibration Table (from Oct. 10, 1995)', 673, 1585, '#00f')
</script>
</body>
</html>
